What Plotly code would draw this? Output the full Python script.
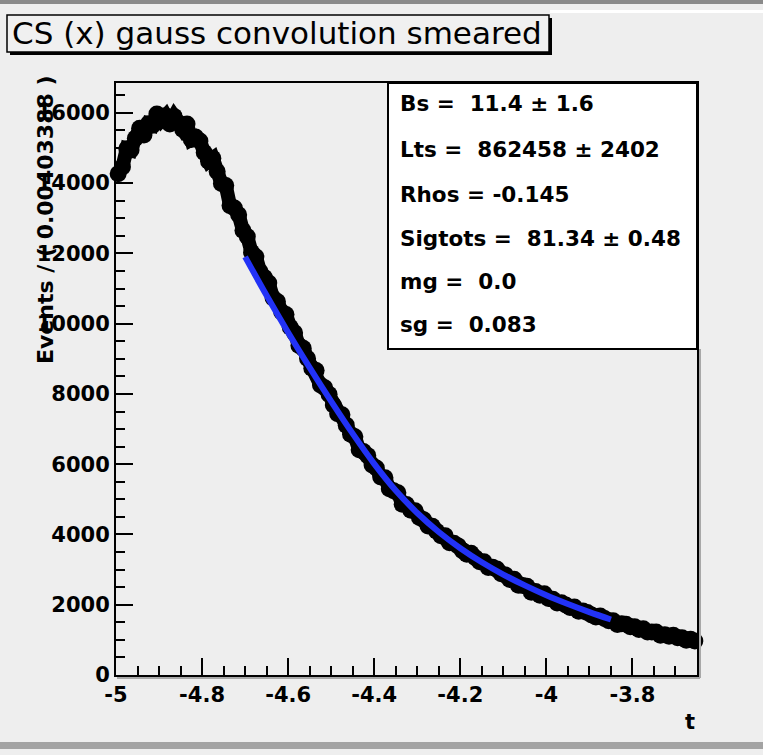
import numpy as np
import plotly.graph_objects as go

# ---------------- data ----------------
bin_lo, bin_w, n_bins = -5.0, 0.01, 135
t_data = [round(bin_lo + bin_w * (i + 0.5), 4) for i in range(n_bins)]
events = [
    14270, 14460, 14980, 14940, 15280, 15560, 15370, 15690, 15650, 15970,
    15790, 15920, 15680, 15900, 15720, 15530, 15680, 15240, 15310, 15200,
    14870, 14620, 14710, 14330, 13990, 13930, 13360, 13290, 13100, 12650,
    12480, 12030, 11906, 11478, 11312, 11154, 10732, 10634, 10332, 10258,
    9896, 9738, 9376, 9302, 9010, 8730, 8666, 8254, 8176, 7990,
    7684, 7438, 7408, 7112, 6852, 6782, 6412, 6364, 6244, 5978,
    5890, 5634, 5616, 5298, 5242, 5184, 4862, 4854, 4692, 4673,
    4486, 4418, 4241, 4232, 4090, 3965, 3966, 3764, 3751, 3675,
    3539, 3438, 3463, 3337, 3222, 3222, 3057, 3064, 3019, 2883,
    2845, 2719, 2726, 2558, 2547, 2529, 2357, 2374, 2272, 2313,
    2176, 2158, 2048, 2057, 1990, 1918, 1936, 1814, 1824, 1782,
    1706, 1653, 1680, 1605, 1542, 1547, 1440, 1459, 1442, 1375,
    1372, 1296, 1316, 1223, 1225, 1222, 1130, 1149, 1102, 1130,
    1061, 1058, 988, 1017, 970,
]

t_fit = [-4.70, -4.65, -4.60, -4.55, -4.50, -4.45, -4.40, -4.35, -4.30,
         -4.25, -4.20, -4.15, -4.10, -4.05, -4.00, -3.95, -3.90, -3.85]
fit_vals = [11900, 10800, 9750, 8750, 7790, 6870, 6010, 5250, 4610,
            4070, 3610, 3210, 2860, 2550, 2270, 2020, 1790, 1580]

x_tick_vals = [-5.0, -4.8, -4.6, -4.4, -4.2, -4.0, -3.8]
x_tick_text = ["-5", "-4.8", "-4.6", "-4.4", "-4.2", "-4", "-3.8"]
y_tick_vals = [0, 2000, 4000, 6000, 8000, 10000, 12000, 14000, 16000]
y_tick_text = ["0", "2000", "4000", "6000", "8000", "10000", "12000", "14000", "16000"]

title_text = "CS (x) gauss convolution smeared"
y_title = "Events / ( 0.00403388 )"
x_title = "t"
stats_lines = [
    "Bs =\u00a0 11.4 \u00b1 1.6",
    "Lts =\u00a0 862458 \u00b1 2402",
    "Rhos = -0.145",
    "Sigtots =\u00a0 81.34 \u00b1 0.48",
    "mg =\u00a0 0.0",
    "sg =\u00a0 0.083",
]

# ---------------- layout geometry ----------------
W, H = 763, 755
L, R, T, B = 116, 697, 83, 675
BG = "#eeeeee"
FONT = "DejaVu Sans"


def px(x):
    return (x - L) / (R - L)


def py(y):
    return (B - y) / (B - T)


fig = go.Figure()
fig.add_trace(go.Scatter(
    x=t_data, y=events, mode="lines+markers",
    line=dict(color="black", width=14),
    marker=dict(color="black", size=17, line=dict(width=0)),
    cliponaxis=False, showlegend=False, hoverinfo="skip"))
fig.add_trace(go.Scatter(
    x=t_fit, y=fit_vals, mode="lines", line=dict(color="#2232f6", width=6, shape="spline"),
    showlegend=False, hoverinfo="skip"))

tickfont = dict(family=FONT, size=21, color="black", weight="bold")

fig.update_layout(
    width=W, height=H,
    margin=dict(l=L, r=W - R, t=T, b=H - B, pad=0),
    paper_bgcolor=BG, plot_bgcolor=BG,
    xaxis=dict(range=[-5.0, -3.65], tickmode="array", tickvals=x_tick_vals, ticktext=x_tick_text,
               ticks="inside", ticklen=17, tickwidth=2, tickcolor="black",
               minor=dict(ticks="inside", ticklen=9, tickwidth=2, tickcolor="black",
                          tickmode="linear", tick0=-5.0, dtick=0.05),
               showline=True, linecolor="black", linewidth=2, mirror=True,
               showgrid=False, zeroline=False, tickfont=tickfont),
    yaxis=dict(range=[0, 16850], tickmode="array", tickvals=y_tick_vals, ticktext=y_tick_text,
               ticks="inside", ticklen=17, tickwidth=2, tickcolor="black",
               minor=dict(ticks="inside", ticklen=9, tickwidth=2, tickcolor="black",
                          tickmode="linear", tick0=0, dtick=500),
               showline=True, linecolor="black", linewidth=2, mirror=True,
               showgrid=False, zeroline=False, tickfont=tickfont),
)

shapes = []
# canvas bevel bands
shapes.append(dict(type="rect", xref="paper", yref="paper", x0=px(0), x1=px(W), y0=py(0), y1=py(4),
                   fillcolor="#8a8a8a", line=dict(width=0), layer="above"))
shapes.append(dict(type="rect", xref="paper", yref="paper", x0=px(0), x1=px(W), y0=py(742), y1=py(749),
                   fillcolor="#a3a3a3", line=dict(width=0), layer="above"))
shapes.append(dict(type="rect", xref="paper", yref="paper", x0=px(550), x1=px(W), y0=py(10), y1=py(13),
                   fillcolor="#ffffff", line=dict(width=0), layer="above"))
# frame shadow
shapes.append(dict(type="line", xref="paper", yref="paper", x0=px(700), x1=px(700), y0=py(349), y1=py(678),
                   line=dict(color="#a8a8a8", width=2), layer="above"))
shapes.append(dict(type="line", xref="paper", yref="paper", x0=px(117), x1=px(700), y0=py(678), y1=py(678),
                   line=dict(color="#a8a8a8", width=2), layer="above"))
# title box with shadow
shapes.append(dict(type="rect", xref="paper", yref="paper", x0=px(10), x1=px(552), y0=py(18), y1=py(55),
                   fillcolor="black", line=dict(width=0), layer="above"))
shapes.append(dict(type="rect", xref="paper", yref="paper", x0=px(7), x1=px(549), y0=py(15), y1=py(52),
                   fillcolor="#f0f0f0", line=dict(color="black", width=1.5), layer="above"))
# stats box
shapes.append(dict(type="rect", xref="paper", yref="paper", x0=px(388), x1=px(697), y0=py(83), y1=py(349),
                   fillcolor="white", line=dict(color="black", width=2), layer="above"))
fig.update_layout(shapes=shapes)

ann = []
ann.append(dict(text=title_text, xref="paper", yref="paper", x=px(10), y=py(33),
                xanchor="left", yanchor="middle", showarrow=False,
                font=dict(family=FONT, size=31, color="black")))
line_y = [103, 149, 194, 239, 281, 324]
for s, yy in zip(stats_lines, line_y):
    ann.append(dict(text=s, xref="paper", yref="paper", x=px(398), y=py(yy),
                    xanchor="left", yanchor="middle", showarrow=False,
                    font=dict(family=FONT, size=21.5, color="black", weight="bold")))
ann.append(dict(text=y_title, xref="paper", yref="paper", x=px(45), y=py(220),
                xanchor="center", yanchor="middle", textangle=-90, showarrow=False,
                font=dict(family=FONT, size=22, color="black", weight="bold")))
ann.append(dict(text=x_title, xref="paper", yref="paper", x=px(690), y=py(722),
                xanchor="center", yanchor="middle", showarrow=False,
                font=dict(family=FONT, size=21, color="black", weight="bold")))
fig.update_layout(annotations=ann)

fig.write_html("out.html")
